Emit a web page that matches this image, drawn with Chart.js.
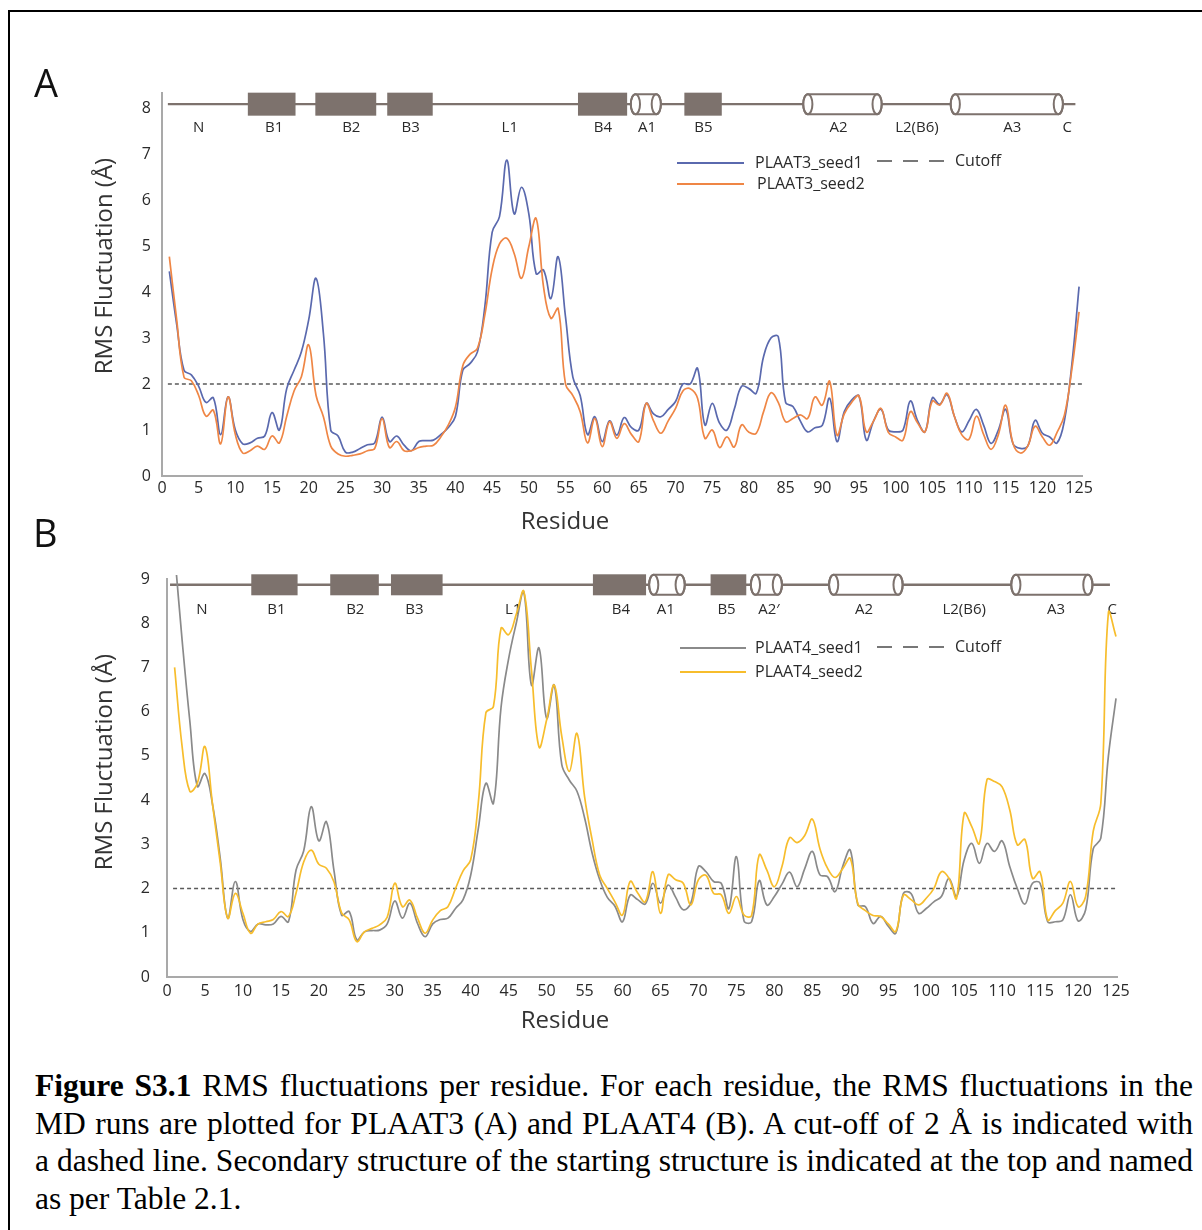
<!DOCTYPE html>
<html>
<head>
<meta charset="utf-8">
<script src="https://cdn.jsdelivr.net/npm/chart.js@4.4.1/dist/chart.umd.min.js"></script>
<style>
  html, body { margin: 0; padding: 0; background: #fff; width: 1202px; height: 1230px; overflow: hidden; }
  #frame { position: absolute; left: 8px; top: 10px; width: 1400px; height: 1400px; border: 2px solid #000; box-sizing: border-box; }
  canvas { position: absolute; left: 0; }
  #chartA { top: 0; }
  #chartB { top: 530px; }
  .t { position: absolute; font-family: "Open Sans", sans-serif; color: #333; white-space: nowrap; }
  .panel { font-size: 38px; line-height: 38px; color: #111; }
  .ytitle { font-size: 24px; transform: translate(-50%, -50%) rotate(-90deg); }
  .xtitle { font-size: 24px; transform: translate(-50%, -50%); }
  #caption { position: absolute; left: 35px; top: 1067px; width: 1158px; font-family: "Liberation Serif", "Times New Roman", serif; font-size: 31.5px; line-height: 37.5px; color: #000; }
  #caption .j { text-align: justify; text-align-last: justify; }
</style>
</head>
<body>
<div id="frame"></div>
<canvas id="chartA" width="1202" height="530"></canvas>
<canvas id="chartB" width="1202" height="510"></canvas>

<div class="t panel" style="left:34px; top:63px;">A</div>
<div class="t panel" style="left:33px; top:513px;">B</div>
<div class="t ytitle" style="left:102px; top:266px;">RMS Fluctuation (Å)</div>
<div class="t ytitle" style="left:102px; top:762px;">RMS Fluctuation (Å)</div>
<div class="t xtitle" style="left:565px; top:519px;">Residue</div>
<div class="t xtitle" style="left:565px; top:1018px;">Residue</div>

<div id="caption">
  <div class="j"><b>Figure S3.1</b> RMS fluctuations per residue. For each residue, the RMS fluctuations in the</div>
  <div class="j">MD runs are plotted for PLAAT3 (A) and PLAAT4 (B). A cut-off of 2 Å is indicated with</div>
  <div class="j">a dashed line. Secondary structure of the starting structure is indicated at the top and named</div>
  <div>as per Table 2.1.</div>
</div>

<script>
// ---------------- data ----------------
const residues = [
  1,2,3,4,5,6,7,8,9,10, 11,12,13,14,15,16,17,18,19,20,
  21,22,23,24,25,26,27,28,29,30, 31,32,33,34,35,36,37,38,39,40,
  41,42,43,44,45,46,47,48,49,50, 51,52,53,54,55,56,57,58,59,60,
  61,62,63,64,65,66,67,68,69,70, 71,72,73,74,75,76,77,78,79,80,
  81,82,83,84,85,86,87,88,89,90, 91,92,93,94,95,96,97,98,99,100,
  101,102,103,104,105,106,107,108,109,110, 111,112,113,114,115,116,117,118,119,120,
  121,122,123,124,125
];

const plaat3Seed1 = [
  4.45,3.3,2.3,2.2,1.95,1.6,1.7,0.9,1.72,1.0,
  0.7,0.72,0.82,0.87,1.38,1.0,1.9,2.3,2.7,3.4,
  4.3,3.1,1.0,0.87,0.52,0.52,0.6,0.68,0.72,1.28,
  0.75,0.87,0.67,0.55,0.75,0.77,0.78,0.9,1.05,1.3,
  2.3,2.45,2.7,3.68,5.3,5.64,6.87,5.7,6.28,5.7,
  4.4,4.48,3.86,4.77,3.46,2.15,1.75,0.9,1.29,0.75,
  1.2,0.89,1.27,1.05,1.0,1.58,1.35,1.29,1.45,1.62,
  2.0,2.0,2.34,1.11,1.58,1.15,1.0,1.45,1.95,1.9,
  1.8,2.6,3.0,3.03,1.6,1.51,1.2,0.96,1.05,1.1,
  1.69,0.75,1.4,1.65,1.74,0.78,1.2,1.45,1.0,0.96,
  1.0,1.63,1.2,0.96,1.7,1.56,1.77,1.3,0.96,1.2,
  1.45,1.1,0.71,1.0,1.45,0.7,0.6,0.65,1.21,0.93,
  0.85,0.72,1.2,2.4,4.12
];
const plaat3Seed2 = [
  4.77,3.4,2.15,2.07,1.75,1.3,1.43,0.7,1.72,0.9,
  0.5,0.55,0.65,0.58,0.87,0.72,1.3,1.85,2.16,2.85,
  1.75,1.29,0.65,0.48,0.43,0.45,0.48,0.55,0.6,1.25,
  0.62,0.75,0.55,0.55,0.62,0.65,0.67,0.85,1.1,1.5,
  2.4,2.65,2.78,3.5,4.5,5.05,5.17,4.84,4.3,4.99,
  5.6,4.12,3.43,3.64,2.0,1.75,1.4,0.72,1.25,0.64,
  1.18,0.82,1.14,0.9,0.75,1.58,1.2,0.93,1.2,1.47,
  1.85,1.9,1.69,0.82,1.0,0.62,0.85,0.63,1.11,0.95,
  0.93,1.4,1.81,1.6,1.18,1.25,1.33,1.25,1.72,1.54,
  2.06,0.89,1.35,1.6,1.74,0.96,1.2,1.47,0.95,0.85,
  0.78,1.4,1.15,0.96,1.63,1.54,1.8,1.3,0.9,0.8,
  1.3,0.9,0.58,0.9,1.54,0.7,0.5,0.65,1.08,0.85,
  0.67,0.95,1.32,2.3,3.57
];
const plaat4Seed1 = [
  9.6,7.6,5.8,4.31,4.6,3.9,2.7,1.33,2.16,1.3,
  1.03,1.2,1.18,1.2,1.37,1.25,2.42,2.85,3.85,3.08,
  3.51,2.4,1.4,1.48,0.84,1.02,1.05,1.06,1.2,1.72,
  1.33,1.67,1.21,0.91,1.2,1.3,1.33,1.55,1.75,2.3,
  3.35,4.38,3.93,6.1,7.2,8.0,8.7,6.6,7.44,5.85,
  6.6,4.8,4.45,4.2,3.6,2.8,2.2,1.8,1.6,1.25,
  1.85,1.75,1.65,2.12,1.67,2.08,1.8,1.52,1.67,2.5,
  2.38,2.16,2.12,1.55,2.72,1.27,1.25,2.18,1.63,1.82,
  2.1,2.37,2.04,2.45,2.84,2.31,2.27,1.93,2.5,2.87,
  1.63,1.59,1.21,1.37,1.15,0.99,1.89,1.89,1.44,1.55,
  1.7,1.82,2.23,1.82,2.65,3.02,2.57,3.02,2.84,3.08,
  2.5,2.0,1.65,2.12,2.12,1.25,1.25,1.29,1.86,1.27,
  1.52,2.9,3.14,5.0,6.3
];
const plaat4Seed2 = [
  7.0,5.2,4.2,4.38,5.21,3.9,2.6,1.33,1.89,1.44,
  0.99,1.2,1.25,1.3,1.48,1.37,1.9,2.6,2.87,2.55,
  2.46,2.15,1.45,1.29,0.8,1.02,1.1,1.18,1.35,2.12,
  1.59,1.74,1.33,0.99,1.29,1.5,1.59,2.0,2.4,2.65,
  3.93,5.97,6.12,7.89,7.74,8.2,8.72,6.95,5.2,5.81,
  6.6,5.44,4.65,5.51,4.08,3.1,2.3,2.0,1.7,1.4,
  2.16,1.9,1.7,2.38,1.44,2.31,2.2,2.12,1.63,2.2,
  2.3,1.89,1.86,1.44,1.82,1.4,1.39,2.76,2.42,2.04,
  2.5,3.15,3.04,3.2,3.57,2.9,2.46,2.25,2.45,2.68,
  1.65,1.5,1.39,1.37,1.2,1.03,1.85,1.75,1.63,1.78,
  2.0,2.38,2.23,1.78,3.7,3.4,3.02,4.46,4.42,4.3,
  3.78,2.99,3.11,2.23,2.38,1.29,1.5,1.67,2.16,1.59,
  1.82,3.3,3.93,8.24,7.7
];

const cutoffValue = 2;
const cutoffSpanA = [0.8, 125.4];
const cutoffSpanB = [0.8, 125.0];

const yRangeA = [0, 8.33];
const yRangeB = [0, 9.0];
const xRangeA = [0, 125.4];
const xRangeB = [0, 125.13];

// secondary structure (residue ranges)
const backboneA = [0.8, 124.5];
const strandsA = [[11.7, 18.2], [20.9, 29.2], [30.7, 36.9], [56.7, 63.4], [71.2, 76.3]];
const helicesA = [[63.9, 68.0], [87.4, 98.1], [107.5, 122.8]];
const ssLabelsA = ['N', 'B1', 'B2', 'B3', 'L1', 'B4', 'A1', 'B5', 'A2', 'L2(B6)', 'A3', 'C'];
const ssLabelPosA = [5.0, 15.3, 25.8, 33.9, 47.4, 60.1, 66.1, 73.8, 92.2, 102.9, 115.9, 123.4];

const backboneB = [0.4, 124.2];
const strandsB = [[11.1, 17.2], [21.5, 27.9], [29.5, 36.3], [56.1, 63.1], [71.6, 76.3]];
const helicesB = [[63.5, 68.2], [76.9, 81.0], [87.2, 96.9], [111.2, 121.9]];
const ssLabelsB = ['N', 'B1', 'B2', 'B3', 'L1', 'B4', 'A1', 'B5', 'A2\u2032', 'A2', 'L2(B6)', 'A3', 'C'];
const ssLabelPosB = [4.6, 14.4, 24.8, 32.6, 45.6, 59.8, 65.7, 73.7, 79.3, 91.8, 105.0, 117.1, 124.5];

const legendA = ['PLAAT3_seed1', 'PLAAT3_seed2', 'Cutoff'];
const legendB = ['PLAAT4_seed1', 'PLAAT4_seed2', 'Cutoff'];

// ---------------- styles ----------------
const BLUE = '#5a69ae';
const ORANGE = '#ef8645';
const GREY = '#8a8a8a';
const YELLOW = '#f7bd2c';
const CUT = '#5a5a5a';
const AXIS = '#a9a9a9';
const TEXT = '#2a2a2a';
const SS_STROKE = '#7d726d';
const SS_FILL = '#7d726d';
const FONT = '"Open Sans", sans-serif';

function structurePlugin(id, spec) {
  return {
    id: id,
    beforeDatasetsDraw(chart) {
      const ctx = chart.ctx, x = chart.scales.x, y = chart.scales.y;
      const yb = y.getPixelForValue(spec.level);
      ctx.save();
      ctx.strokeStyle = SS_STROKE;
      ctx.lineWidth = 2.4;
      ctx.beginPath();
      ctx.moveTo(x.getPixelForValue(spec.backbone[0]), yb);
      ctx.lineTo(x.getPixelForValue(spec.backbone[1]), yb);
      ctx.stroke();
      ctx.fillStyle = SS_FILL;
      spec.strands.forEach(function (s) {
        const x1 = x.getPixelForValue(s[0]), x2 = x.getPixelForValue(s[1]);
        ctx.fillRect(x1, yb - spec.rectHalf, x2 - x1, spec.rectHalf * 2);
      });
      spec.helices.forEach(function (h) {
        const rx = 4.6, hh = spec.cylHalf;
        const x1 = x.getPixelForValue(h[0]) + rx, x2 = x.getPixelForValue(h[1]) - rx;
        ctx.lineWidth = 2;
        ctx.beginPath();
        ctx.moveTo(x1, yb - hh);
        ctx.lineTo(x2, yb - hh);
        ctx.ellipse(x2, yb, rx, hh, 0, -Math.PI / 2, Math.PI / 2);
        ctx.lineTo(x1, yb + hh);
        ctx.ellipse(x1, yb, rx, hh, 0, Math.PI / 2, Math.PI * 1.5);
        ctx.closePath();
        ctx.fillStyle = '#fff';
        ctx.fill();
        ctx.stroke();
        ctx.beginPath(); ctx.ellipse(x1, yb, rx, hh, 0, 0, Math.PI * 2); ctx.stroke();
        ctx.beginPath(); ctx.ellipse(x2, yb, rx, hh, 0, 0, Math.PI * 2); ctx.stroke();
      });
      ctx.fillStyle = TEXT;
      ctx.font = '15px ' + FONT;
      ctx.textAlign = 'center';
      ctx.textBaseline = 'middle';
      const yl = y.getPixelForValue(spec.labelLevel);
      spec.labels.forEach(function (t, i) {
        ctx.fillText(t, x.getPixelForValue(spec.labelPos[i]), yl);
      });
      ctx.restore();
    },
    afterDraw(chart) {
      const ctx = chart.ctx;
      ctx.save();
      ctx.font = '16px ' + FONT;
      ctx.textAlign = 'left';
      ctx.textBaseline = 'middle';
      spec.legend.forEach(function (it) {
        ctx.strokeStyle = it.color;
        ctx.lineWidth = 2;
        ctx.setLineDash(it.dash || []);
        ctx.beginPath();
        ctx.moveTo(it.x1, it.y);
        ctx.lineTo(it.x2, it.y);
        ctx.stroke();
        ctx.fillStyle = TEXT;
        ctx.fillText(it.text, it.tx, it.y);
      });
      ctx.restore();
    }
  };
}

function scaleOpts(xr, yr, xH, yW, xPad, yPad) {
  const tickFont = { family: FONT, size: 16 };
  return {
    x: {
      type: 'linear', min: xr[0], max: xr[1],
      afterFit: function (s) { s.height = xH; },
      grid: { display: false },
      border: { display: true, color: AXIS, width: 2 },
      ticks: { stepSize: 5, includeBounds: false, autoSkip: false, maxRotation: 0, padding: xPad, color: TEXT, font: tickFont }
    },
    y: {
      type: 'linear', min: yr[0], max: yr[1],
      afterFit: function (s) { s.width = yW; },
      grid: { display: false },
      border: { display: true, color: AXIS, width: 2 },
      ticks: { stepSize: 1, includeBounds: false, padding: yPad, color: TEXT, font: tickFont }
    }
  };
}

function lineDs(label, data, color, clip) {
  return { label: label, data: data, borderColor: color, borderWidth: 1.7, pointRadius: 0, tension: 0.4, fill: false, clip: clip };
}

// ---------------- panel A ----------------
new Chart(document.getElementById('chartA'), {
  type: 'line',
  data: {
    labels: residues,
    datasets: [
      lineDs(legendA[1], plaat3Seed2, ORANGE, 4),
      lineDs(legendA[0], plaat3Seed1, BLUE, 4),
      { label: legendA[2], data: [{ x: cutoffSpanA[0], y: cutoffValue }, { x: cutoffSpanA[1], y: cutoffValue }],
        borderColor: CUT, borderWidth: 1.4, borderDash: [4, 3], pointRadius: 0, fill: false }
    ]
  },
  options: {
    responsive: false, animation: false, events: [],
    layout: { padding: { left: 0, right: 120, top: 93, bottom: 0 } },
    plugins: { legend: { display: false }, tooltip: { enabled: false } },
    scales: scaleOpts(xRangeA, yRangeA, 54, 162, -5, 3)
  },
  plugins: [structurePlugin('ssA', {
    level: 8.087, labelLevel: 7.565, rectHalf: 11.5, cylHalf: 10,
    backbone: backboneA, strands: strandsA, helices: helicesA, labels: ssLabelsA, labelPos: ssLabelPosA,
    legend: [
      { text: legendA[0], color: BLUE, x1: 677, x2: 744, y: 163, tx: 755 },
      { text: legendA[1], color: ORANGE, x1: 677, x2: 744, y: 184, tx: 757 },
      { text: legendA[2], color: '#777', dash: [15, 11], x1: 877, x2: 945, y: 161, tx: 955 }
    ]
  })]
});

// ---------------- panel B ----------------
new Chart(document.getElementById('chartB'), {
  type: 'line',
  data: {
    labels: residues,
    datasets: [
      lineDs(legendB[1], plaat4Seed2, YELLOW, { left: 2, top: 4, right: 2, bottom: 2 }),
      lineDs(legendB[0], plaat4Seed1, GREY, { left: 2, top: 4, right: 2, bottom: 2 }),
      { label: legendB[2], data: [{ x: cutoffSpanB[0], y: cutoffValue }, { x: cutoffSpanB[1], y: cutoffValue }],
        borderColor: CUT, borderWidth: 1.4, borderDash: [4, 3], pointRadius: 0, fill: false }
    ]
  },
  options: {
    responsive: false, animation: false, events: [],
    layout: { padding: { left: 0, right: 85, top: 49, bottom: 0 } },
    plugins: { legend: { display: false }, tooltip: { enabled: false } },
    scales: scaleOpts(xRangeB, yRangeB, 63, 167, -3, 9)
  },
  plugins: [structurePlugin('ssB', {
    level: 8.869, labelLevel: 8.303, rectHalf: 10.5, cylHalf: 10,
    backbone: backboneB, strands: strandsB, helices: helicesB, labels: ssLabelsB, labelPos: ssLabelPosB,
    legend: [
      { text: legendB[0], color: GREY, x1: 680, x2: 746, y: 118, tx: 755 },
      { text: legendB[1], color: YELLOW, x1: 680, x2: 746, y: 142, tx: 755 },
      { text: legendB[2], color: '#777', dash: [15, 11], x1: 877, x2: 944, y: 117, tx: 955 }
    ]
  })]
});
</script>
</body>
</html>
